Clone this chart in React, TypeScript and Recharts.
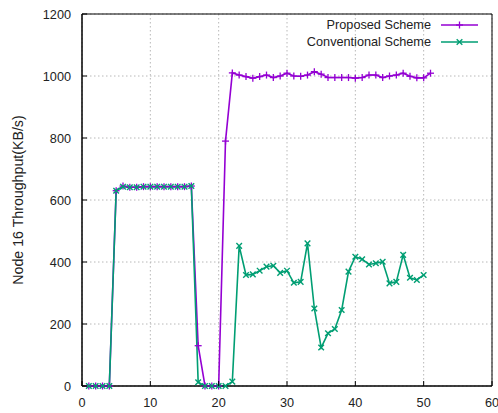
import React from 'react';
import { LineChart, Line, XAxis, YAxis, CartesianGrid, ReferenceArea } from 'recharts';

const time = [
  1, 2, 3, 4, 5, 6, 7, 8, 9, 10, 11, 12, 13, 14, 15, 16, 17, 18, 19, 20, 21, 22, 23, 24, 25, 26,
  27, 28, 29, 30, 31, 32, 33, 34, 35, 36, 37, 38, 39, 40, 41, 42, 43, 44, 45, 46, 47, 48, 49, 50, 51,
];

const proposed = [
  0, 0, 0, 0, 630, 645, 641, 641, 643, 643, 643, 643, 643, 643, 643, 645, 130, 0, 0, 0, 790, 1010,
  1003, 998, 993, 998, 1003, 995, 1000, 1009, 1000, 999, 1003, 1014, 1006, 995, 995, 995, 995, 993,
  995, 1003, 1003, 995, 1000, 1003, 1009, 999, 994, 994, 1009,
];

const conventional = [
  0, 0, 0, 0, 630, 643, 641, 641, 643, 643, 643, 643, 643, 643, 643, 645, 12, 0, 0, 0, 0, 14, 452,
  358, 360, 372, 385, 388, 365, 372, 333, 336, 460, 250, 124, 170, 184, 245, 369, 417, 409, 392, 396,
  401, 331, 336, 423, 349, 342, 358,
];

const xTicks = [0, 10, 20, 30, 40, 50, 60];
const yTicks = [0, 200, 400, 600, 800, 1000, 1200];

const PURPLE = '#9400d3';
const GREEN = '#009e73';
const FONT = '"Liberation Sans", Arial, sans-serif';
const TEXT = '#222';

const data = time.map((t, i) => ({
  t,
  proposed: proposed[i],
  conventional: conventional[i],
}));

function PlusDot({ cx, cy }: any) {
  if (cx == null || cy == null) return null;
  const r = 3.5;
  return (
    <g stroke={PURPLE} strokeWidth={1.3}>
      <line x1={cx - r} y1={cy} x2={cx + r} y2={cy} />
      <line x1={cx} y1={cy - r} x2={cx} y2={cy + r} />
    </g>
  );
}

function CrossDot({ cx, cy }: any) {
  if (cx == null || cy == null) return null;
  const r = 2.8;
  return (
    <g stroke={GREEN} strokeWidth={1.4}>
      <line x1={cx - r} y1={cy - r} x2={cx + r} y2={cy + r} />
      <line x1={cx - r} y1={cy + r} x2={cx + r} y2={cy - r} />
    </g>
  );
}

function BottomTick({ x, y, payload }: any) {
  return (
    <g>
      <line x1={x} y1={y} x2={x} y2={y - 5} stroke="#000" />
      <text x={x} y={y + 21} textAnchor="middle" fontSize={12.7} fontFamily={FONT} fill={TEXT}>
        {payload.value}
      </text>
    </g>
  );
}

function LeftTick({ x, y, payload }: any) {
  return (
    <g>
      <line x1={x} y1={y} x2={x + 5} y2={y} stroke="#000" />
      <text x={x - 11} y={y + 4.5} textAnchor="end" fontSize={12.7} fontFamily={FONT} fill={TEXT}>
        {payload.value}
      </text>
    </g>
  );
}

function TopTick({ x, y }: any) {
  return <line x1={x} y1={y} x2={x} y2={y + 5} stroke="#000" />;
}

function RightTick({ x, y }: any) {
  return <line x1={x} y1={y} x2={x - 5} y2={y} stroke="#000" />;
}

function YLabel({ viewBox }: any) {
  const cy = viewBox.y + viewBox.height / 2;
  return (
    <text
      x={17.5}
      y={cy}
      transform={`rotate(-90 17.5 ${cy})`}
      textAnchor="middle"
      dominantBaseline="central"
      fontSize={14.2}
      fontFamily={FONT}
      fill={TEXT}
    >
      Node 16 Throughput(KB/s)
    </text>
  );
}

function LegendBox() {
  const rows = [
    { name: 'Proposed Scheme', color: PURPLE, mark: 'plus' },
    { name: 'Conventional Scheme', color: GREEN, mark: 'cross' },
  ];
  return (
    <div
      style={{
        position: 'absolute',
        top: 16,
        right: 20,
        width: 240,
        fontFamily: FONT,
        fontSize: 12.7,
        color: TEXT,
      }}
    >
      {rows.map((r) => (
        <div
          key={r.name}
          style={{ display: 'flex', justifyContent: 'flex-end', alignItems: 'center', height: 17 }}
        >
          <span style={{ marginRight: 10 }}>{r.name}</span>
          <svg width={37} height={10}>
            <line x1={0} y1={5} x2={37} y2={5} stroke={r.color} strokeWidth={1.6} />
            {r.mark === 'plus' ? (
              <g stroke={r.color} strokeWidth={1.3}>
                <line x1={15} y1={5} x2={22} y2={5} />
                <line x1={18.5} y1={1.5} x2={18.5} y2={8.5} />
              </g>
            ) : (
              <g stroke={r.color} strokeWidth={1.4}>
                <line x1={15.7} y1={2.2} x2={21.3} y2={7.8} />
                <line x1={15.7} y1={7.8} x2={21.3} y2={2.2} />
              </g>
            )}
          </svg>
        </div>
      ))}
    </div>
  );
}

export default function App() {
  return (
    <div style={{ position: 'absolute', left: 0, top: 0, width: 498, height: 413, background: '#fff' }}>
      <LineChart width={498} height={413} data={data} margin={{ top: 14, right: 6, bottom: 0, left: 0 }}>
        <CartesianGrid stroke="#b8b8b8" strokeDasharray="1.5 2.5" />
        <XAxis
          dataKey="t"
          type="number"
          domain={[0, 60]}
          ticks={xTicks}
          height={27}
          tickSize={0}
          tickMargin={0}
          tickLine={false}
          axisLine={{ stroke: '#000' }}
          tick={<BottomTick />}
          interval={0}
        />
        <XAxis
          xAxisId="top"
          orientation="top"
          dataKey="t"
          type="number"
          domain={[0, 60]}
          ticks={xTicks}
          height={0}
          tickSize={0}
          tickMargin={0}
          tickLine={false}
          axisLine={{ stroke: '#000' }}
          tick={<TopTick />}
          interval={0}
        />
        <YAxis
          type="number"
          domain={[0, 1200]}
          ticks={yTicks}
          width={82}
          tickSize={0}
          tickMargin={0}
          tickLine={false}
          axisLine={{ stroke: '#000' }}
          tick={<LeftTick />}
          interval={0}
          label={<YLabel />}
        />
        <YAxis
          yAxisId="right"
          orientation="right"
          type="number"
          domain={[0, 1200]}
          ticks={yTicks}
          width={0}
          tickSize={0}
          tickMargin={0}
          tickLine={false}
          axisLine={{ stroke: '#000' }}
          tick={<RightTick />}
          interval={0}
        />
        <ReferenceArea x1={0} x2={60} y1={0} y2={1200} fill="none" stroke="#000" strokeWidth={1} />
        <Line
          dataKey="proposed"
          stroke={PURPLE}
          strokeWidth={1.6}
          dot={<PlusDot />}
          activeDot={false}
          isAnimationActive={false}
          type="linear"
        />
        <Line
          dataKey="conventional"
          stroke={GREEN}
          strokeWidth={1.6}
          dot={<CrossDot />}
          activeDot={false}
          isAnimationActive={false}
          type="linear"
        />
      </LineChart>
      <LegendBox />
    </div>
  );
}
